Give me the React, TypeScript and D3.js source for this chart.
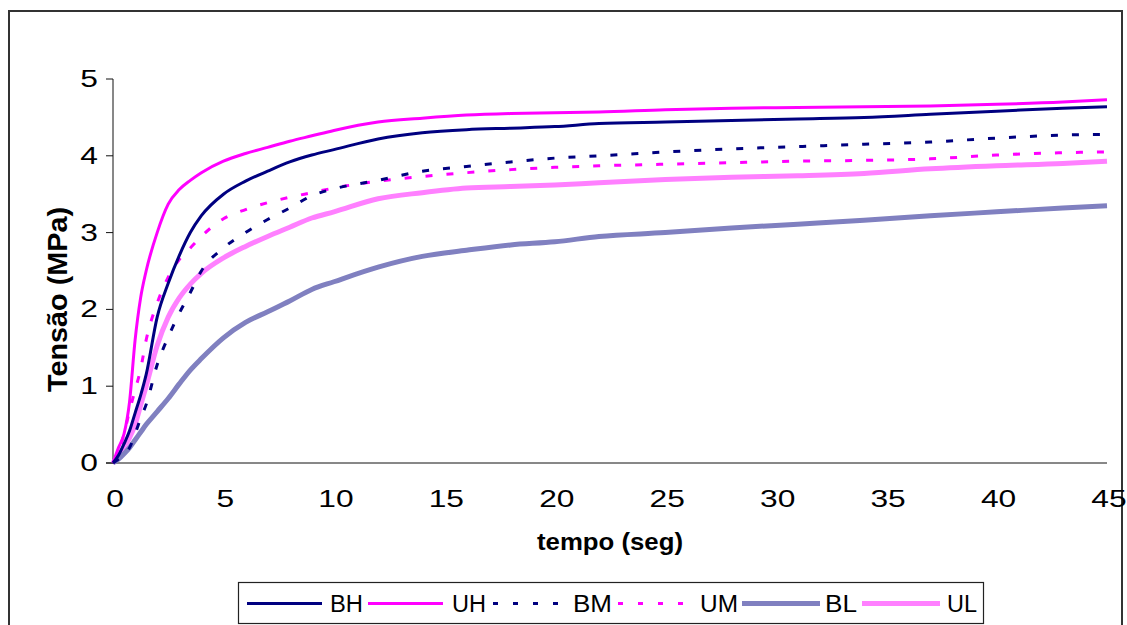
import React from "react";
import * as d3 from "d3";

const times = [0, 0.25, 0.5, 0.75, 1, 1.25, 1.5, 2, 2.5, 3, 3.5, 4, 5, 6, 7, 8, 9, 10, 12, 14, 16, 18, 20, 22, 25, 28, 31, 34, 37, 40, 43, 45];

const valuesBH = [0, 0.1, 0.25, 0.42, 0.65, 0.88, 1.15, 1.9, 2.34, 2.7, 3.0, 3.22, 3.5, 3.67, 3.8, 3.92, 4.01, 4.08, 4.22, 4.3, 4.34, 4.36, 4.38, 4.42, 4.44, 4.46, 4.48, 4.5, 4.54, 4.58, 4.62, 4.64];
const valuesUH = [0, 0.2, 0.38, 0.8, 1.6, 2.15, 2.5, 3.0, 3.37, 3.56, 3.68, 3.78, 3.93, 4.03, 4.11, 4.19, 4.26, 4.33, 4.44, 4.49, 4.53, 4.55, 4.56, 4.57, 4.6, 4.62, 4.63, 4.64, 4.65, 4.67, 4.7, 4.73];
const valuesBM = [0, 0.05, 0.12, 0.2, 0.38, 0.58, 0.76, 1.28, 1.64, 1.95, 2.22, 2.5, 2.8, 3.0, 3.17, 3.32, 3.48, 3.57, 3.68, 3.8, 3.86, 3.92, 3.97, 4.0, 4.05, 4.09, 4.12, 4.15, 4.18, 4.23, 4.27, 4.28];
const valuesUM = [0, 0.15, 0.38, 0.68, 0.95, 1.22, 1.6, 2.08, 2.42, 2.65, 2.8, 2.95, 3.18, 3.3, 3.39, 3.46, 3.52, 3.58, 3.67, 3.73, 3.78, 3.82, 3.85, 3.87, 3.89, 3.91, 3.93, 3.94, 3.96, 4.01, 4.04, 4.05];
const valuesBL = [0, 0.05, 0.12, 0.2, 0.3, 0.4, 0.5, 0.67, 0.84, 1.03, 1.21, 1.36, 1.63, 1.83, 1.97, 2.11, 2.26, 2.36, 2.55, 2.69, 2.77, 2.84, 2.88, 2.95, 3.0, 3.06, 3.11, 3.16, 3.22, 3.27, 3.32, 3.35];
const valuesUL = [0, 0.1, 0.2, 0.33, 0.5, 0.75, 1.0, 1.53, 1.9, 2.15, 2.33, 2.47, 2.67, 2.82, 2.95, 3.07, 3.19, 3.27, 3.44, 3.52, 3.58, 3.6, 3.62, 3.65, 3.69, 3.72, 3.74, 3.77, 3.83, 3.87, 3.9, 3.93];

const seriesNames = ["BH", "UH", "BM", "UM", "BL", "UL"];
const xTicks = [0, 5, 10, 15, 20, 25, 30, 35, 40, 45];
const yTicks = [0, 1, 2, 3, 4, 5];

const styles: Record<string, { color: string; width: number; dash?: string }> = {
  BH: { color: "#000080", width: 3 },
  UH: { color: "#FF00FF", width: 3 },
  BM: { color: "#000080", width: 3, dash: "7 14" },
  UM: { color: "#FF00FF", width: 3, dash: "7 14" },
  BL: { color: "#8080C0", width: 5 },
  UL: { color: "#FF80FF", width: 5 },
};

const legendLayout: Record<string, { x1: number; x2: number; tx: number; tw: number }> = {
  BH: { x1: 247, x2: 322, tx: 330, tw: 33 },
  UH: { x1: 368, x2: 443, tx: 452, tw: 34 },
  BM: { x1: 493, x2: 565, tx: 573, tw: 39 },
  UM: { x1: 618, x2: 690, tx: 700, tw: 38 },
  BL: { x1: 742, x2: 820, tx: 825, tw: 32 },
  UL: { x1: 862, x2: 940, tx: 947, tw: 30 },
};

export default function App() {
  const data: Record<string, number[]> = {
    BH: valuesBH, UH: valuesUH, BM: valuesBM, UM: valuesUM, BL: valuesBL, UL: valuesUL,
  };
  const x = d3.scaleLinear().domain([0, 45]).range([113, 1107]);
  const y = d3.scaleLinear().domain([0, 5]).range([463, 79]);
  const line = d3
    .line<[number, number]>()
    .x((d) => x(d[0]))
    .y((d) => y(d[1]))
    .curve(d3.curveMonotoneX);
  const font = "'Liberation Sans', Arial, sans-serif";
  const drawOrder = ["UL", "BL", "UM", "BM", "UH", "BH"];

  return (
    <svg
      width={1127}
      height={625}
      style={{ position: "absolute", left: 0, top: 0, background: "#fff" }}
      fontFamily={font}
    >
      <rect x={0} y={0} width={1127} height={625} fill="#fff" />
      <rect x={9} y={11} width={1113} height={700} fill="none" stroke="#333" strokeWidth={2} />

      {/* axes */}
      <line x1={113} x2={113} y1={y(5)} y2={y(0)} stroke="#111" strokeWidth={1} />
      <line x1={106} x2={x(45)} y1={y(0)} y2={y(0)} stroke="#111" strokeWidth={1} />
      {yTicks.map((t) => (
        <g key={"yt" + t}>
          <line x1={106} x2={113} y1={y(t)} y2={y(t)} stroke="#111" strokeWidth={1} />
          <text
            transform={`translate(98,${y(t) + 8}) scale(1.38,1)`}
            textAnchor="end"
            fontSize={23}
            fill="#000"
          >
            {t}
          </text>
        </g>
      ))}
      {xTicks.map((t) => (
        <text
          key={"xt" + t}
          transform={`translate(${x(t) + 2},507) scale(1.38,1)`}
          textAnchor="middle"
          fontSize={23}
          fill="#000"
        >
          {t}
        </text>
      ))}

      <text
        x={537}
        y={550}
        fontSize={24}
        fontWeight="bold"
        textLength={146}
        lengthAdjust="spacingAndGlyphs"
        fill="#000"
      >
        tempo (seg)
      </text>
      <text
        transform={`translate(67,${300 + 92}) rotate(-90)`}
        fontSize={28}
        fontWeight="bold"
        textLength={185}
        lengthAdjust="spacingAndGlyphs"
        fill="#000"
      >
        Tensão (MPa)
      </text>

      {/* series */}
      {drawOrder.map((name) => {
        const vals = data[name];
        const pts: [number, number][] = times.map((t, i) => [t, vals[i]]);
        const s = styles[name];
        return (
          <path
            key={name}
            d={line(pts) || ""}
            fill="none"
            stroke={s.color}
            strokeWidth={s.width}
            strokeDasharray={s.dash}
            strokeLinejoin="round"
          />
        );
      })}

      {/* legend */}
      <rect x={238.5} y={582.5} width={745} height={41} fill="#fff" stroke="#222" strokeWidth={1.2} />
      {seriesNames.map((name) => {
        const s = styles[name];
        const L = legendLayout[name];
        return (
          <g key={"lg" + name}>
            <line
              x1={L.x1}
              x2={L.x2}
              y1={603.5}
              y2={603.5}
              stroke={s.color}
              strokeWidth={s.width}
              strokeDasharray={s.dash ? "5 15" : undefined}
            />
            <text
              x={L.tx}
              y={612}
              fontSize={23}
              textLength={L.tw}
              lengthAdjust="spacingAndGlyphs"
              fill="#000"
            >
              {name}
            </text>
          </g>
        );
      })}
    </svg>
  );
}
